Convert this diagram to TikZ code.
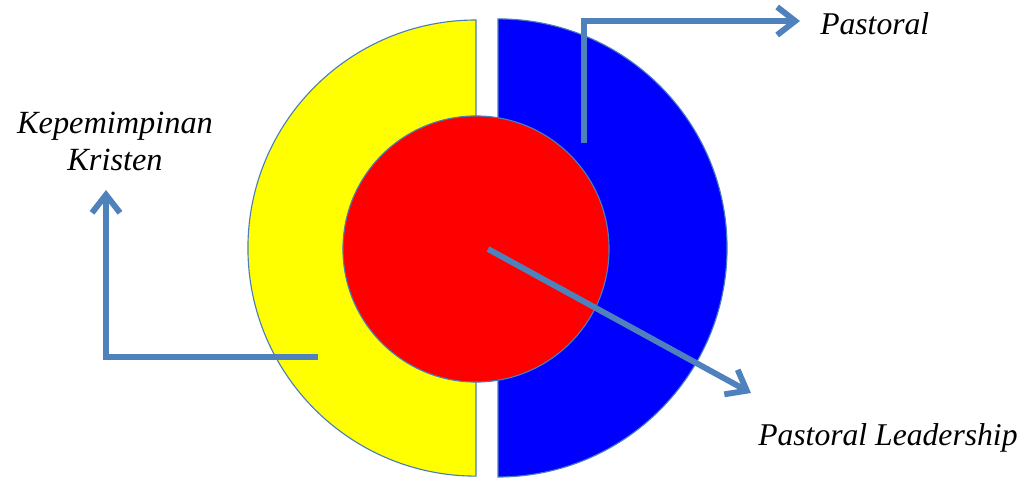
\documentclass[tikz,border=0pt]{standalone}
\usepackage{fontspec}
\setmainfont{Liberation Serif}
\usetikzlibrary{arrows.meta}

\definecolor{arrowblue}{HTML}{4F81BD}
\definecolor{rimblue}{HTML}{4A7EBB}
\definecolor{discyellow}{HTML}{FFFF00}
\definecolor{discblue}{HTML}{0000FF}
\definecolor{corered}{HTML}{FF0000}

\begin{document}
\begin{tikzpicture}[x=0.025cm, y=-0.025cm]

\useasboundingbox (0,0) rectangle (1028,479);

\def\rimwidth{0.8pt}
\def\arrowwidth{4.2pt}

% ---------- styles ----------
\tikzset{
  halfdisc/.style={draw=rimblue, line width=\rimwidth},
  arrowstyle/.style={
    draw=arrowblue,
    line width=\arrowwidth,
    -{Straight Barb[length=4.5mm, width=7mm]}
  },
  labeltext/.style={font=\itshape\fontsize{22.5}{27}\selectfont, inner sep=0pt}
}

% ---------- half discs ----------
\filldraw[halfdisc, fill=discyellow] (476,20) arc[start angle=90, end angle=270, radius=5.7cm] -- cycle;
\filldraw[halfdisc, fill=discblue] (498,477) arc[start angle=270, end angle=450, radius=5.725cm] -- cycle;

% ---------- inner circle ----------
\node[circle, draw=rimblue, line width=\rimwidth, fill=corered,
      minimum size=6.65cm, inner sep=0pt] (core) at (476,249) {};

% ---------- arrow end points ----------
\coordinate (pastoralStart) at (584,143);
\coordinate (pastoralTip)   at (800,21);
\coordinate (kristenStart)  at (318,357);
\coordinate (kristenTip)    at (106,190);
\coordinate (leaderStart)   at (488,249);
\coordinate (leaderTip)     at (751,393);

% ---------- arrows ----------
\draw[arrowstyle] (pastoralStart) |- (pastoralTip);
\draw[arrowstyle] (kristenStart) -| (kristenTip);
\draw[arrowstyle] (leaderStart) -- (leaderTip);

% ---------- labels ----------
\node[labeltext, anchor=base west] (pastoralLabel) at (820,35) {Pastoral};
\node[labeltext, anchor=base, align=center, font=\itshape\fontsize{23}{27}\selectfont]
  (kristenLabel) at (115,171) {Kepemimpinan\\Kristen};
\node[labeltext, anchor=base west] (leaderLabel) at (758,445) {Pastoral Leadership};

\end{tikzpicture}
\end{document}
